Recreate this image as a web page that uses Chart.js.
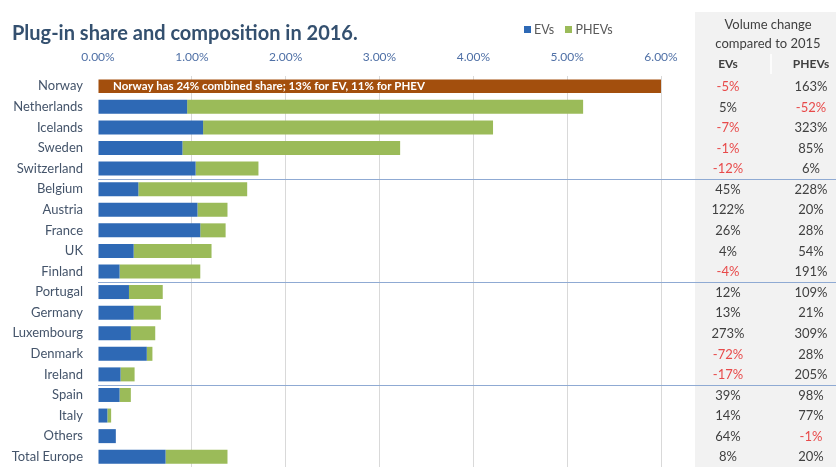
<!DOCTYPE html>
<html>
<head>
<meta charset="utf-8">
<script src="https://cdn.jsdelivr.net/npm/chart.js@4.4.1/dist/chart.umd.min.js"></script>
<style>
  html, body { margin: 0; padding: 0; background: #fff; }
  .wrap { position: relative; width: 836px; height: 467px; overflow: hidden; font-family: Lato, 'Open Sans', sans-serif; }
  .title { position: absolute; left: 12px; top: 20px; font-size: 20px; font-weight: bold; color: #34506f; white-space: nowrap; }
  .legend { position: absolute; left: 524px; top: 22px; font-size: 12.5px; color: #595959; white-space: nowrap; }
  .legend span.box { display: inline-block; width: 7px; height: 7px; margin-right: 3px; vertical-align: 1px; }
  .legend span.item { margin-right: 8px; }
  canvas { position: absolute; left: 0; top: 0; }
</style>
</head>
<body>
<div class="wrap">
  <canvas id="chart" width="836" height="467"></canvas>
  <div class="title">Plug-in share and composition in 2016.</div>
  <div class="legend">
    <span class="item"><span class="box" style="background:#2e69b5"></span>EVs</span>
    <span class="item"><span class="box" style="background:#9bbb59"></span>PHEVs</span>
  </div>
</div>
<script>
// market share 2016, % of new car sales
const countries = ['Norway', 'Netherlands', 'Icelands', 'Sweden', 'Switzerland', 'Belgium', 'Austria', 'France', 'UK', 'Finland',
  'Portugal', 'Germany', 'Luxembourg', 'Denmark', 'Ireland', 'Spain', 'Italy', 'Others', 'Total Europe'];
const evShare   = [null, 0.95, 1.12, 0.90, 1.04, 0.43, 1.06, 1.09, 0.38, 0.23, 0.33, 0.38, 0.35, 0.52, 0.24, 0.23, 0.10, 0.19, 0.72];
const phevShare = [null, 4.22, 3.09, 2.32, 0.67, 1.16, 0.32, 0.27, 0.83, 0.86, 0.36, 0.29, 0.26, 0.06, 0.15, 0.12, 0.04, 0, 0.66];
// Norway is off the scale, shown as one capped bar
const norwayEv = 13;
const norwayPhev = 11;
const norwayShare = [norwayEv + norwayPhev, null, null, null, null, null, null, null, null, null, null, null, null, null, null, null, null, null, null];

// volume change compared to 2015, %
const evChange   = [-5, 5, -7, -1, -12, 45, 122, 26, 4, -4, 12, 13, 273, -72, -17, 39, 14, 64, 8];
const phevChange = [163, -52, 323, 85, 6, 228, 20, 28, 54, 191, 109, 21, 309, 28, 205, 98, 77, -1, 20];

// groups end after these rows
const groupEnds = ['Switzerland', 'Finland', 'Ireland'];

const xTicks = [0, 1, 2, 3, 4, 5, 6];

const FONT = "Lato, 'Open Sans', sans-serif";

const extras = {
  id: 'extras',
  beforeDatasetsDraw(chart) {
    const { ctx } = chart;
    // grey table background
    ctx.save();
    ctx.fillStyle = '#f2f2f2';
    ctx.fillRect(695, 12, chart.width - 695, chart.height - 12);
    ctx.strokeStyle = '#ffffff';
    ctx.lineWidth = 1.5;
    ctx.beginPath();
    ctx.moveTo(771, 54);
    ctx.lineTo(771, 74);
    ctx.stroke();
    ctx.restore();
  },
  afterDatasetsDraw(chart) {
    const { ctx, chartArea, scales } = chart;
    const y = scales.y;
    ctx.save();

    // Norway note inside the capped bar
    ctx.fillStyle = '#ffffff';
    ctx.font = 'bold 11.5px ' + FONT;
    ctx.textBaseline = 'middle';
    ctx.textAlign = 'left';
    ctx.fillText('Norway has ' + norwayShare[0] + '% combined share; ' + norwayEv + '% for EV, ' + norwayPhev + '% for PHEV',
      chartArea.left + 15, y.getPixelForValue(0) + 0.5);

    // group separators
    ctx.strokeStyle = '#8faad3';
    ctx.lineWidth = 1;
    groupEnds.forEach(name => {
      const i = countries.indexOf(name);
      const py = Math.round((y.getPixelForValue(i) + y.getPixelForValue(i + 1)) / 2) + 0.5;
      ctx.beginPath();
      ctx.moveTo(chartArea.left, py);
      ctx.lineTo(chart.width, py);
      ctx.stroke();
    });

    // table header
    ctx.textAlign = 'center';
    ctx.fillStyle = '#404040';
    ctx.font = '13px ' + FONT;
    ctx.fillText('Volume change', 768, 25);
    ctx.fillText('compared to 2015', 768, 44);
    ctx.font = 'bold 12px ' + FONT;
    ctx.fillText('EVs', 728, 64);
    ctx.fillText('PHEVs', 811, 64);

    // table values
    ctx.font = '13px ' + FONT;
    const fmt = v => v + '%';
    countries.forEach((c, i) => {
      const py = y.getPixelForValue(i) + 0.5;
      ctx.fillStyle = evChange[i] < 0 ? '#e84a4a' : '#404040';
      ctx.fillText(fmt(evChange[i]), 728, py);
      ctx.fillStyle = phevChange[i] < 0 ? '#e84a4a' : '#404040';
      ctx.fillText(fmt(phevChange[i]), 811, py);
    });
    ctx.restore();
  }
};

const ctx = document.getElementById('chart').getContext('2d');
new Chart(ctx, {
  type: 'bar',
  data: {
    labels: countries,
    datasets: [
      { label: 'Norway', data: norwayShare, backgroundColor: '#a34f0d', stack: 's', barPercentage: 0.66, categoryPercentage: 1 },
      { label: 'EVs', data: evShare, backgroundColor: '#2e69b5', stack: 's', barPercentage: 0.68, categoryPercentage: 1 },
      { label: 'PHEVs', data: phevShare, backgroundColor: '#9bbb59', stack: 's', barPercentage: 0.68, categoryPercentage: 1 }
    ]
  },
  options: {
    indexAxis: 'y',
    responsive: false,
    animation: false,
    layout: { padding: { top: 41, right: 175, left: 0, bottom: 0 } },
    plugins: {
      legend: { display: false },
      title: { display: false },
      tooltip: { enabled: false }
    },
    scales: {
      x: {
        position: 'top',
        stacked: true,
        min: 0,
        max: 6,
        afterFit: s => {
          s.height = 35;
          s.paddingLeft = 0;
          s.paddingRight = 0;
        },
        afterBuildTicks: s => { s.ticks = xTicks.map(v => ({ value: v })); },
        border: { display: false },
        grid: {
          drawTicks: false,
          color: c => (c.tick && c.tick.value === 0 ? 'rgba(0,0,0,0)' : '#d9d9d9')
        },
        ticks: {
          padding: 12,
          color: '#4f70a6',
          font: { family: FONT, size: 12 },
          callback: v => v.toFixed(2) + '%'
        }
      },
      y: {
        stacked: true,
        afterFit: s => {
          s.width = 98;
          s.paddingTop = 0;
          s.paddingBottom = 0;
        },
        border: { display: false },
        grid: { display: false, drawTicks: false },
        ticks: {
          padding: 15,
          color: '#44546a',
          font: { family: FONT, size: 13 }
        }
      }
    }
  },
  plugins: [extras]
});
</script>
</body>
</html>
